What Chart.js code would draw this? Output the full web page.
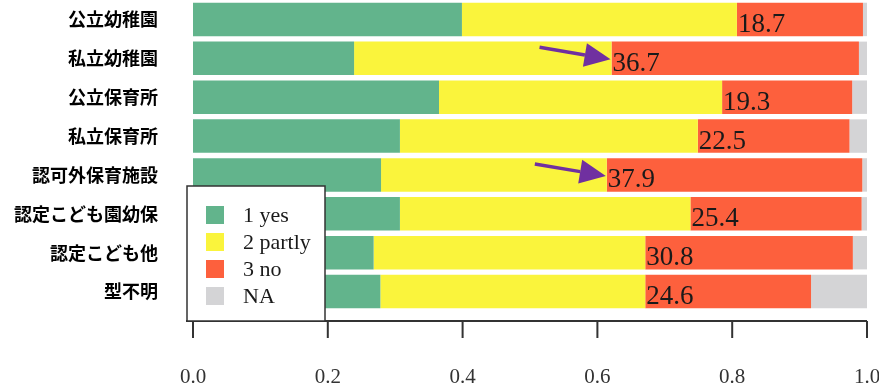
<!DOCTYPE html>
<html>
<head>
<meta charset="utf-8">
<script src="https://cdn.jsdelivr.net/npm/chart.js@4/dist/chart.umd.min.js"></script>
<style>
  html, body { margin: 0; padding: 0; background: #fff; }
  #wrap { position: relative; width: 879px; height: 388px; }
</style>
</head>
<body>
<div id="wrap"><canvas id="grafico"></canvas></div>
<script>
// categorías (tipo de institución) y proporciones por respuesta
const tipos = ["公立幼稚園", "私立幼稚園", "公立保育所", "私立保育所", "認可外保育施設", "認定こども園幼保", "認定こども他", "型不明"];
const yes    = [0.399, 0.239, 0.365, 0.307, 0.279, 0.307, 0.268, 0.278];
const partly = [0.408, 0.382, 0.420, 0.442, 0.335, 0.431, 0.403, 0.393];
const no     = [0.187, 0.367, 0.193, 0.225, 0.379, 0.254, 0.308, 0.246];
const na     = [0.006, 0.012, 0.022, 0.026, 0.007, 0.008, 0.021, 0.083];
const xTicks = [0, 0.2, 0.4, 0.6, 0.8, 1.0];
const flechas = [1, 4]; // filas señaladas con flecha

const serif = "'Liberation Serif', 'DejaVu Serif', serif";

// eje x dibujado un poco por debajo del área de barras
const ejeX = {
  id: 'ejeX',
  afterDraw(chart) {
    const ctx = chart.ctx, xs = chart.scales.x, area = chart.chartArea;
    const y = area.bottom + 10;
    ctx.save();
    ctx.strokeStyle = '#333';
    ctx.lineWidth = 2;
    ctx.beginPath();
    ctx.moveTo(area.left - 7, y);
    ctx.lineTo(xs.getPixelForValue(1), y);
    xTicks.forEach(t => {
      const px = xs.getPixelForValue(t);
      ctx.moveTo(px, y);
      ctx.lineTo(px, y + 17);
    });
    ctx.stroke();
    ctx.restore();
  }
};

// etiqueta del porcentaje "no" al inicio del segmento rojo + flechas
const etiquetas = {
  id: 'etiquetas',
  afterDatasetsDraw(chart) {
    const ctx = chart.ctx;
    const meta = chart.getDatasetMeta(2);
    ctx.save();
    ctx.font = '27px ' + serif;
    ctx.fillStyle = '#1a1a1a';
    ctx.textAlign = 'left';
    ctx.textBaseline = 'alphabetic';
    meta.data.forEach((bar, i) => {
      const x0 = Math.min(bar.base, bar.x);
      ctx.fillText((no[i] * 100).toFixed(1), x0 + 1, bar.y + 12.5);
    });
    ctx.strokeStyle = '#7030a0';
    ctx.fillStyle = '#7030a0';
    ctx.lineWidth = 3.5;
    flechas.forEach(i => {
      const bar = meta.data[i];
      const tx = Math.min(bar.base, bar.x) - 1, ty = bar.y + 1;
      const sx = tx - 71, sy = ty - 12;
      const ang = Math.atan2(ty - sy, tx - sx);
      const L = 26, W = 12;
      const bx = tx - L * Math.cos(ang), by = ty - L * Math.sin(ang);
      ctx.beginPath();
      ctx.moveTo(sx, sy);
      ctx.lineTo(bx, by);
      ctx.stroke();
      ctx.beginPath();
      ctx.moveTo(tx, ty);
      ctx.lineTo(bx + W * Math.sin(ang), by - W * Math.cos(ang));
      ctx.lineTo(bx - W * Math.sin(ang), by + W * Math.cos(ang));
      ctx.closePath();
      ctx.fill();
    });
    ctx.restore();
  }
};

// leyenda en recuadro sobre las barras
const leyenda = {
  id: 'leyenda',
  afterDraw(chart) {
    const ctx = chart.ctx, area = chart.chartArea;
    const left = area.left - 6, bottom = area.bottom + 10;
    const w = 138, h = 135, top = bottom - h;
    ctx.save();
    ctx.fillStyle = '#fff';
    ctx.fillRect(left, top, w, h);
    ctx.strokeStyle = '#333';
    ctx.lineWidth = 1.5;
    ctx.strokeRect(left, top, w, h);
    ctx.font = '22px ' + serif;
    ctx.textBaseline = 'middle';
    chart.data.datasets.forEach((ds, i) => {
      const cy = top + 29 + i * 27;
      ctx.fillStyle = ds.backgroundColor;
      ctx.fillRect(left + 19, cy - 9, 18, 18);
      ctx.fillStyle = '#1a1a1a';
      ctx.fillText(ds.label, left + 56, cy + 1);
    });
    ctx.restore();
  }
};

new Chart(document.getElementById('grafico').getContext('2d'), {
  type: 'bar',
  data: {
    labels: tipos,
    datasets: [
      { label: '1 yes',    data: yes,    backgroundColor: '#62b48c' },
      { label: '2 partly', data: partly, backgroundColor: '#faf43c' },
      { label: '3 no',     data: no,     backgroundColor: '#fd603d' },
      { label: 'NA',       data: na,     backgroundColor: '#d4d4d6' }
    ]
  },
  options: {
    indexAxis: 'y',
    responsive: true,
    maintainAspectRatio: false,
    animation: false,
    layout: { padding: { top: 0, right: 12, bottom: 0, left: 0 } },
    datasets: { bar: { categoryPercentage: 1, barPercentage: 0.86 } },
    plugins: { legend: { display: false }, tooltip: { enabled: false } },
    scales: {
      x: {
        stacked: true, min: 0, max: 1,
        grid: { display: false, drawTicks: true, tickLength: 74 },
        border: { display: false },
        afterFit: s => { s.height = 77; },
        afterBuildTicks: s => { s.ticks = xTicks.map(v => ({ value: v })); },
        ticks: {
          padding: -20,
          color: '#333',
          font: { family: serif, size: 21 },
          callback: v => v.toFixed(1)
        }
      },
      y: {
        stacked: true,
        grid: { display: false, drawTicks: true, tickLength: 47 },
        border: { display: false },
        afterFit: s => { s.width = 193; },
        ticks: {
          padding: -12,
          color: '#000',
          font: { family: "'Noto Sans CJK JP', 'Noto Sans', sans-serif", size: 18, weight: 'bold' }
        }
      }
    }
  },
  plugins: [ejeX, etiquetas, leyenda]
});
</script>
</body>
</html>
